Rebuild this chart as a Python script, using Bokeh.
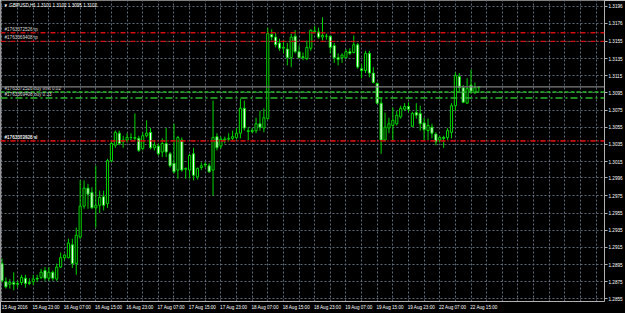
from bokeh.plotting import figure
from bokeh.models import Range1d, FixedTicker, Label, Span, ColumnDataSource, PrintfTickFormatter
from bokeh.embed import file_html
from bokeh.resources import INLINE

# ---------------- data (GBPUSD H1, 15 Aug 2016 15:00 .. 22 Aug 2016 17:00) ----------------
opens = [1.2896, 1.2875, 1.2872, 1.2874, 1.2873, 1.2874, 1.2879, 1.2874, 1.2875, 1.2879,
         1.2880, 1.2888, 1.2879, 1.2886, 1.2878, 1.2892, 1.2903, 1.2903, 1.2918, 1.2896,
         1.2927, 1.2963, 1.2984, 1.2979, 1.2961, 1.2964, 1.2974, 1.2966, 1.3016, 1.3034,
         1.3048, 1.3038, 1.3040, 1.3043, 1.3042, 1.3042, 1.3030, 1.3045, 1.3049, 1.3031,
         1.3033, 1.3026, 1.3036, 1.3024, 1.3013, 1.3005, 1.3040, 1.3006, 1.3005, 1.3024,
         1.2997, 1.3008, 1.3012, 1.3010, 1.3005, 1.3044, 1.3033, 1.3040, 1.3041, 1.3042,
         1.3043, 1.3048, 1.3077, 1.3050, 1.3051, 1.3051, 1.3059, 1.3054, 1.3065, 1.3163,
         1.3160, 1.3153, 1.3147, 1.3146, 1.3136, 1.3161, 1.3143, 1.3137, 1.3135, 1.3147,
         1.3166, 1.3166, 1.3160, 1.3161, 1.3161, 1.3150, 1.3136, 1.3136, 1.3136, 1.3143,
         1.3142, 1.3151, 1.3123, 1.3121, 1.3141, 1.3118, 1.3106, 1.3083, 1.3040, 1.3054,
         1.3057, 1.3059, 1.3067, 1.3076, 1.3079, 1.3056, 1.3072, 1.3071, 1.3060, 1.3051,
         1.3055, 1.3047, 1.3040, 1.3043, 1.3043, 1.3049, 1.3080, 1.3114, 1.3101, 1.3083,
         1.3104, 1.3095, 1.3101]
highs = [1.2902, 1.2880, 1.2878, 1.2886, 1.2876, 1.2883, 1.2883, 1.2879, 1.2883, 1.2883,
         1.2890, 1.2892, 1.2892, 1.2888, 1.2896, 1.2909, 1.2907, 1.2925, 1.2925, 1.2938,
         1.2993, 1.2993, 1.2989, 1.2985, 1.3010, 1.2981, 1.2981, 1.3018, 1.3040, 1.3051,
         1.3051, 1.3045, 1.3048, 1.3048, 1.3071, 1.3045, 1.3049, 1.3063, 1.3054, 1.3040,
         1.3036, 1.3042, 1.3054, 1.3026, 1.3059, 1.3045, 1.3043, 1.3008, 1.3024, 1.3031,
         1.3008, 1.3014, 1.3014, 1.3013, 1.3086, 1.3048, 1.3044, 1.3044, 1.3048, 1.3051,
         1.3054, 1.3088, 1.3086, 1.3055, 1.3054, 1.3066, 1.3074, 1.3077, 1.3171, 1.3169,
         1.3165, 1.3158, 1.3156, 1.3153, 1.3164, 1.3168, 1.3150, 1.3142, 1.3156, 1.3169,
         1.3173, 1.3171, 1.3183, 1.3164, 1.3162, 1.3153, 1.3141, 1.3141, 1.3146, 1.3147,
         1.3162, 1.3153, 1.3129, 1.3144, 1.3144, 1.3125, 1.3107, 1.3090, 1.3072, 1.3066,
         1.3078, 1.3074, 1.3080, 1.3083, 1.3084, 1.3073, 1.3083, 1.3080, 1.3066, 1.3065,
         1.3059, 1.3049, 1.3045, 1.3045, 1.3054, 1.3083, 1.3119, 1.3118, 1.3104, 1.3112,
         1.3122, 1.3107, 1.3102]
lows = [1.2874, 1.2867, 1.2867, 1.2865, 1.2868, 1.2871, 1.2868, 1.2871, 1.2871, 1.2875,
        1.2878, 1.2876, 1.2876, 1.2876, 1.2876, 1.2891, 1.2900, 1.2902, 1.2891, 1.2883,
        1.2925, 1.2960, 1.2960, 1.2960, 1.2938, 1.2955, 1.2958, 1.2961, 1.3014, 1.3031,
        1.3034, 1.3031, 1.3037, 1.3040, 1.3040, 1.3026, 1.3028, 1.3043, 1.3029, 1.3028,
        1.3022, 1.3020, 1.3020, 1.3008, 1.3001, 1.2995, 1.3003, 1.2995, 1.2995, 1.2993,
        1.2994, 1.3005, 1.3008, 1.3002, 1.2975, 1.3028, 1.3030, 1.3036, 1.3038, 1.3040,
        1.3041, 1.3042, 1.3051, 1.3040, 1.3048, 1.3048, 1.3051, 1.3049, 1.3064, 1.3156,
        1.3148, 1.3144, 1.3141, 1.3127, 1.3125, 1.3141, 1.3135, 1.3133, 1.3133, 1.3144,
        1.3164, 1.3158, 1.3156, 1.3157, 1.3141, 1.3130, 1.3127, 1.3130, 1.3135, 1.3139,
        1.3141, 1.3123, 1.3112, 1.3118, 1.3113, 1.3106, 1.3082, 1.3024, 1.3038, 1.3048,
        1.3040, 1.3057, 1.3065, 1.3074, 1.3072, 1.3055, 1.3065, 1.3051, 1.3040, 1.3040,
        1.3042, 1.3034, 1.3037, 1.3031, 1.3040, 1.3042, 1.3074, 1.3095, 1.3083, 1.3082,
        1.3094, 1.3094, 1.3095]
closes = [1.2876, 1.2869, 1.2874, 1.2872, 1.2872, 1.2880, 1.2873, 1.2873, 1.2878, 1.2878,
          1.2886, 1.2879, 1.2886, 1.2879, 1.2892, 1.2903, 1.2906, 1.2920, 1.2896, 1.2929,
          1.2963, 1.2984, 1.2977, 1.2961, 1.2964, 1.2973, 1.2964, 1.3016, 1.3036, 1.3049,
          1.3036, 1.3040, 1.3043, 1.3043, 1.3043, 1.3028, 1.3045, 1.3048, 1.3031, 1.3034,
          1.3024, 1.3036, 1.3026, 1.3010, 1.3003, 1.3043, 1.3005, 1.3007, 1.3022, 1.2999,
          1.3007, 1.3010, 1.3011, 1.3003, 1.3043, 1.3031, 1.3041, 1.3041, 1.3042, 1.3044,
          1.3048, 1.3077, 1.3054, 1.3051, 1.3050, 1.3059, 1.3055, 1.3066, 1.3164, 1.3160,
          1.3151, 1.3147, 1.3148, 1.3136, 1.3160, 1.3143, 1.3136, 1.3136, 1.3148, 1.3168,
          1.3167, 1.3160, 1.3162, 1.3161, 1.3148, 1.3136, 1.3134, 1.3139, 1.3143, 1.3141,
          1.3151, 1.3125, 1.3121, 1.3141, 1.3118, 1.3107, 1.3083, 1.3040, 1.3055, 1.3059,
          1.3063, 1.3069, 1.3077, 1.3079, 1.3076, 1.3071, 1.3069, 1.3059, 1.3052, 1.3057,
          1.3048, 1.3038, 1.3043, 1.3042, 1.3051, 1.3080, 1.3115, 1.3101, 1.3084, 1.3100,
          1.3097, 1.3101, 1.3102]

# time axis: bar index -> label (every 8 H1 bars)
time_label_bars = [0, 8, 16, 24, 32, 40, 48, 56, 64, 72, 80, 88, 96, 104, 112, 120]
time_labels = ["15 Aug 2016", "15 Aug 23:00", "16 Aug 07:00", "16 Aug 15:00", "16 Aug 23:00",
               "17 Aug 07:00", "17 Aug 15:00", "17 Aug 23:00", "18 Aug 07:00", "18 Aug 15:00",
               "18 Aug 23:00", "19 Aug 07:00", "19 Aug 15:00", "19 Aug 23:00", "22 Aug 07:00",
               "22 Aug 15:00"]

price_ticks = [1.3196, 1.3176, 1.3155, 1.3135, 1.3115, 1.3095, 1.3075, 1.3055, 1.3035,
               1.3015, 1.2996, 1.2975, 1.2955, 1.2935, 1.2915, 1.2895, 1.2875, 1.2855]

order_levels = [1.3165, 1.3155, 1.3096, 1.3089, 1.3039, 1.3039]
order_texts = ["#1763372526 tp", "#1763369408 tp", "#1763372526 buy limit 0.02",
               "#1763369408 buy 0.33", "#1763372526 sl", "#1763369408 sl"]
order_kinds = ["tp", "tp", "pending", "open", "sl", "sl"]
bid_price = 1.3102
header_text = "\u25bc GBPUSD,H1  1.3101 1.3102 1.3095 1.3102"

# ---------------- styling ----------------
GREEN = "#00d400"
FONT = "Liberation Sans"
FS = "4.6px"
LABEL_SHIFT = 3.3   # bars: time labels start at their bar (MT4 style), Bokeh centres them

n = len(opens)
x = list(range(n))
top = [max(o, c) for o, c in zip(opens, closes)]
bot = [min(o, c) for o, c in zip(opens, closes)]
fill = ["black" if c >= o else "white" for o, c in zip(opens, closes)]
src = ColumnDataSource(dict(x=x, open=opens, high=highs, low=lows, close=closes,
                            top=top, bottom=bot, fill=fill))

p = figure(width=625, height=313, title=None,
           x_range=Range1d(-0.383, 154.15), y_range=Range1d(1.28519, 1.32026),
           x_axis_location="below", y_axis_location="right",
           output_backend="svg", toolbar_location=None,
           background_fill_color="black", border_fill_color="black",
           min_border_left=0, min_border_top=0, min_border_right=20, min_border_bottom=12)
p.outline_line_color = None

# axes
grid_bars = list(range(0, 156, 4))
label_pos = [b + LABEL_SHIFT for b in time_label_bars]
p.xaxis.ticker = FixedTicker(ticks=label_pos)
p.xaxis.major_label_overrides = dict(zip(label_pos, time_labels))
p.xgrid.ticker = FixedTicker(ticks=grid_bars)
p.yaxis.ticker = FixedTicker(ticks=price_ticks)
p.yaxis.formatter = PrintfTickFormatter(format="%.4f")
for ax in (p.xaxis[0], p.yaxis[0]):
    ax.axis_line_color = "#b0b0b0"
    ax.major_tick_line_color = "#b0b0b0"
    ax.minor_tick_line_color = None
    ax.major_tick_in = 0
    ax.major_label_text_color = "white"
    ax.major_label_text_font = FONT
    ax.major_label_text_font_size = FS
p.xaxis.major_tick_out = 0
p.xaxis.major_label_standoff = 3
p.yaxis.major_tick_out = 3
p.yaxis.major_label_standoff = 1

for g in (p.xgrid[0], p.ygrid[0]):
    g.grid_line_color = "#5f6a78"
    g.grid_line_dash = "2 2"
    g.grid_line_width = 1

# left border line
p.add_layout(Span(location=p.x_range.start, dimension="height", line_color="#b0b0b0", line_width=1.5))

# order lines
styles = {"tp": ("#d01010", "5 2 1 2"), "sl": ("#d01010", "5 2 1 2"),
          "pending": ("#2ab82a", "4 2"), "open": ("#2ab82a", "7 3 2 3")}
for lvl, txt, kind in zip(order_levels, order_texts, order_kinds):
    col, dash = styles[kind]
    p.add_layout(Span(location=lvl, dimension="width", line_color=col, line_dash=dash, line_width=1.3))
    p.add_layout(Label(x=4, x_units="screen", y=lvl, y_units="data", text=txt, y_offset=1,
                       text_font=FONT, text_font_size=FS, text_color="#d8d8d8",
                       text_baseline="bottom"))

# bid line
p.add_layout(Span(location=bid_price, dimension="width", line_color="#808080", line_width=1.3))

# candles
p.segment(x0="x", y0="low", x1="x", y1="high", source=src, line_color=GREEN, line_width=1)
p.vbar(x="x", width=0.55, top="top", bottom="bottom", source=src,
       fill_color="fill", line_color=GREEN, line_width=1)

# header
p.add_layout(Label(x=3, x_units="screen", y=296, y_units="screen", text=header_text,
                   text_font=FONT, text_font_size=FS, text_color="white", text_baseline="middle"))

# bid price box on axis
p.add_layout(Label(x=606, x_units="screen", y=bid_price, y_units="data", text=f"{bid_price:.4f}",
                   text_font=FONT, text_font_size=FS, text_color="black", text_baseline="middle",
                   background_fill_color="white", padding=1))

open("out.html", "w").write(file_html(p, INLINE))
